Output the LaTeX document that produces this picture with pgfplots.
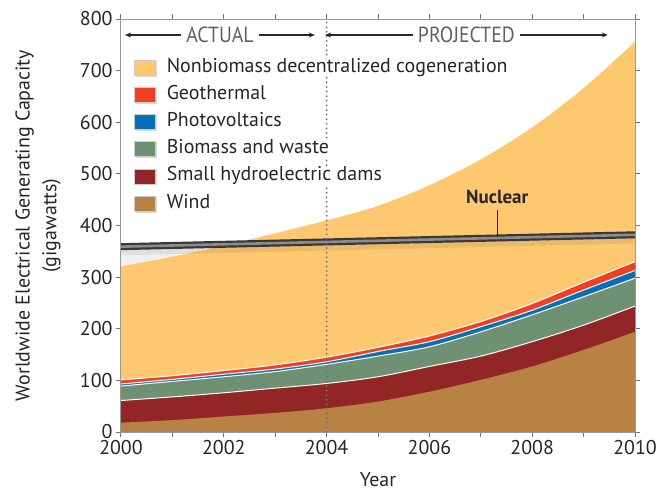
\documentclass[border=0pt]{standalone}
\usepackage{fontspec}
\setmainfont{PT Sans}
\newfontfamily\condfont[FakeStretch=0.9]{PT Sans}
\usepackage{pgfplots}
\usepackage{pgfplotstable}
\pgfplotsset{compat=1.18}
\usetikzlibrary{arrows.meta}
\definecolor{cNon}{HTML}{FDC870}
\definecolor{cGeo}{HTML}{EE4123}
\definecolor{cPV}{HTML}{0A6DB8}
\definecolor{cBio}{HTML}{6E9174}
\definecolor{cHyd}{HTML}{922626}
\definecolor{cWind}{HTML}{B88244}
\definecolor{cTxt}{HTML}{262626}
\pgfplotstableread{
year wind hydro bio pv geo non
2000 18 61 89 93 101 321
2001 23 68 98 102 109 340
2002 30 76 107 112 119 361
2003 37 85 117 122 130 385
2004 46 94 131 136 145 410
2005 59 107 147 156 164 438
2006 78 127 165 175 186 478
2007 101 147 194 204 214 528
2008 127 175 227 236 249 590
2009 159 207 262 275 290 666
2010 194 244 298 313 330 756
}\data
\begin{document}
\begin{tikzpicture}
\path[use as bounding box] (-121bp,-60bp) rectangle (539bp,432bp);
\begin{axis}[
  at={(0,0)}, anchor=south west,
  width=514bp, height=413bp, scale only axis,
  xmin=2000, xmax=2010, ymin=0, ymax=800,
  xtick={2000,2002,...,2010}, minor xtick={2001,2003,...,2009},
  ytick={0,100,...,800},
  tick align=outside, major tick length=5bp, minor tick length=5bp,
  axis line style={draw=black!40, line width=1bp},
  every tick/.style={black!55, line width=1bp},
  axis on top,
  /pgf/number format/assume math mode=true,
  x tick label style={/pgf/number format/1000 sep={}},
  tick label style={font=\fontsize{20}{22}\selectfont, text=cTxt},
  xlabel={Year},
  xlabel style={at={(axis description cs:0.5,0)}, anchor=north, yshift=-40bp, inner sep=0pt, font=\fontsize{20}{22}\selectfont, text=cTxt},
  ylabel={Worldwide Electrical Generating Capacity\\(gigawatts)},
  ylabel style={at={(axis description cs:0,0.5)}, anchor=south, yshift=60bp, inner sep=0pt, align=center, font=\fontsize{20}{27}\selectfont, text=cTxt},
  legend image code/.code={
    \fill[black, opacity=0.15] (1.5bp,-9bp) rectangle (22.5bp,7bp);
    \path[#1, draw=white!80!black, line width=0.6bp] (0bp,-7.5bp) rectangle (21bp,7.5bp);
  },
  legend cell align=left,
  legend style={at={(axis description cs:0,1)}, anchor=north west, xshift=13bp, yshift=-40bp,
    draw=none, fill=none, inner sep=0pt, outer sep=0pt,
    font=\fontsize{20}{22}\selectfont, text=cTxt,
    row sep=9.7bp, column sep=10bp,
    nodes={inner sep=0pt, text height=13bp, text depth=4bp, fill=white}},
]
\addplot[fill=cNon, draw=none, smooth] table[x=year,y=non]{\data} \closedcycle;
\addlegendentry{Nonbiomass decentralized cogeneration}
\addplot[fill=cGeo, draw=none, smooth] table[x=year,y=geo]{\data} \closedcycle;
\addlegendentry{Geothermal}
\addplot[fill=cPV, draw=none, smooth] table[x=year,y=pv]{\data} \closedcycle;
\addlegendentry{Photovoltaics}
\addplot[fill=cBio, draw=none, smooth] table[x=year,y=bio]{\data} \closedcycle;
\addlegendentry{Biomass and waste}
\addplot[fill=cHyd, draw=none, smooth] table[x=year,y=hydro]{\data} \closedcycle;
\addlegendentry{Small hydroelectric dams}
\addplot[fill=cWind, draw=none, smooth] table[x=year,y=wind]{\data} \closedcycle;
\addlegendentry{Wind}
\addplot[white, line width=1bp, smooth, forget plot] table[x=year,y=geo]{\data};
\addplot[white, line width=1bp, smooth, forget plot] table[x=year,y=pv]{\data};
\addplot[white, line width=1bp, smooth, forget plot] table[x=year,y=bio]{\data};
\addplot[white, line width=1bp, smooth, forget plot] table[x=year,y=hydro]{\data};
% shadow region
\addplot[fill=black!6, draw=none, forget plot] coordinates {(2000,321)(2001,340)(2002,361)(2002.2,364)(2000,359)(2000,321)};
\addplot[black, opacity=0.07, line width=9bp, forget plot] coordinates {(2000,351)(2010,374)};
% nuclear
\addplot[color=black!78, line width=7bp, forget plot] coordinates {(2000,359)(2010,382)};
\addplot[color=black!45, line width=2.6bp, forget plot] coordinates {(2000,359)(2010,382)};
\draw[black!85, line width=1.3bp] (axis cs:2007.32,430) -- (axis cs:2007.32,377);
\node[font=\bfseries\fontsize{19}{21}\selectfont, text=cTxt] at (axis cs:2007.32,456) {Nuclear};
% dotted line
\draw[black!55, line width=2bp, line cap=round, dash pattern=on 0pt off 4.6bp] (axis cs:2004,0) -- (axis cs:2004,800);
% actual / projected
\draw[{Stealth[length=6bp,width=5bp]}-{Stealth[length=6bp,width=5bp]}, line width=1.2bp, cTxt]
  (axis cs:2000.08,769) -- (axis cs:2003.77,769)
  node[midway, fill=white, inner xsep=5bp, inner ysep=2bp, text=black!62, font=\condfont\fontsize{22}{24}\selectfont] {ACTUAL};
\draw[{Stealth[length=6bp,width=5bp]}-{Stealth[length=6bp,width=5bp]}, line width=1.2bp, cTxt]
  (axis cs:2003.97,769) -- (axis cs:2009.47,769)
  node[midway, fill=white, inner xsep=5bp, inner ysep=2bp, text=black!62, font=\condfont\fontsize{22}{24}\selectfont] {PROJECTED};
\end{axis}
\end{tikzpicture}
\end{document}
